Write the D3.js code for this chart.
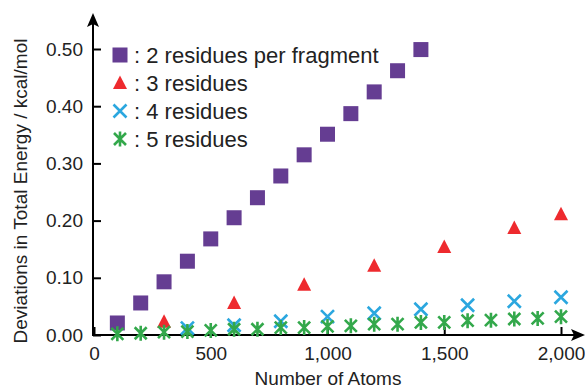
<!DOCTYPE html>
<html>
<head>
<meta charset="utf-8">
<script src="https://cdn.jsdelivr.net/npm/d3@7"></script>
<style>
  html, body { margin: 0; padding: 0; background: #fff; }
  svg { display: block; font-family: "Liberation Sans", Arial, sans-serif; }
</style>
</head>
<body>
<svg id="chart" width="585" height="388"></svg>
<script>
// Deviation in total energy vs. system size, per fragment size
const atoms2 = [100, 200, 300, 400, 500, 600, 700, 800, 900, 1000, 1100, 1200, 1300, 1400];
const dev2   = [0.021, 0.056, 0.093, 0.129, 0.168, 0.205, 0.240, 0.278, 0.315, 0.351, 0.387, 0.425, 0.462, 0.499];

const atoms3 = [300, 600, 900, 1200, 1500, 1800, 2000];
const dev3   = [0.023, 0.056, 0.088, 0.121, 0.154, 0.187, 0.211];

const atoms4 = [400, 600, 800, 1000, 1200, 1400, 1600, 1800, 2000];
const dev4   = [0.012, 0.017, 0.024, 0.032, 0.038, 0.045, 0.052, 0.059, 0.066];

const atoms5 = [100, 200, 300, 400, 500, 600, 700, 800, 900, 1000, 1100, 1200, 1300, 1400, 1500, 1600, 1700, 1800, 1900, 2000];
const dev5   = [0.002, 0.003, 0.005, 0.006, 0.008, 0.010, 0.010, 0.013, 0.013, 0.015, 0.016, 0.019, 0.019, 0.022, 0.022, 0.025, 0.026, 0.028, 0.029, 0.032];

const xTicks = [0, 500, 1000, 1500, 2000];
const yTicks = [0, 0.1, 0.2, 0.3, 0.4, 0.5];
const legendLabels = [": 2 residues per fragment", ": 3 residues", ": 4 residues", ": 5 residues"];

const colors = { sq: "#653d92", tri: "#ee2a2e", x: "#2ba7df", star: "#33a84b" };

const svg = d3.select("#chart");
const x = d3.scaleLinear().domain([0, 2000]).range([94, 561]);
const y = d3.scaleLinear().domain([0, 0.5]).range([335, 49]);

const fontSize = 19;

// Axes (inward ticks, custom arrowed axis lines)
const yAxis = d3.axisLeft(y).tickValues(yTicks).tickFormat(d3.format(".2f"))
  .tickSizeInner(-8).tickSizeOuter(0).tickPadding(10);
const gy = svg.append("g").attr("transform", `translate(${x(0) - 1},0)`).call(yAxis);
gy.select(".domain").remove();
gy.selectAll(".tick line").attr("stroke", "#000").attr("stroke-width", 2);
gy.selectAll(".tick text").attr("font-size", fontSize).attr("fill", "#222")
  .attr("font-family", "Liberation Sans, Arial, sans-serif");

const xAxis = d3.axisBottom(x).tickValues(xTicks).tickFormat(d3.format(","))
  .tickSizeInner(-8).tickSizeOuter(0).tickPadding(12);
const gx = svg.append("g").attr("transform", `translate(0,${y(0)})`).call(xAxis);
gx.select(".domain").remove();
gx.selectAll(".tick line").attr("stroke", "#000").attr("stroke-width", 2);
gx.selectAll(".tick text").attr("font-size", fontSize).attr("fill", "#222")
  .attr("font-family", "Liberation Sans, Arial, sans-serif");

// Axis lines with arrowheads
const x0 = x(0) - 1, y0 = y(0);
svg.append("line").attr("x1", x0).attr("y1", y0).attr("x2", x0).attr("y2", 24)
  .attr("stroke", "#000").attr("stroke-width", 2);
svg.append("path").attr("d", `M${x0},13 L${x0 - 6},27 L${x0},24 L${x0 + 6},27 Z`).attr("fill", "#000");
svg.append("line").attr("x1", x0 - 1).attr("y1", y0).attr("x2", 574).attr("y2", y0)
  .attr("stroke", "#000").attr("stroke-width", 2);
svg.append("path").attr("d", `M585,${y0} L571,${y0 - 6} L574,${y0} L571,${y0 + 6} Z`).attr("fill", "#000");

// Axis titles
svg.append("text").attr("x", 328).attr("y", 385).attr("text-anchor", "middle")
  .attr("font-size", fontSize).attr("fill", "#222").text("Number of Atoms");
svg.append("text").attr("transform", "translate(27,191) rotate(-90)").attr("text-anchor", "middle")
  .attr("font-size", fontSize).attr("fill", "#222").text("Deviations in Total Energy / kcal/mol");

// Marker shapes
const markers = {
  sq: (g) => g.append("rect").attr("x", -7.5).attr("y", -7.5).attr("width", 15).attr("height", 15)
    .attr("fill", colors.sq),
  tri: (g) => g.append("path").attr("d", "M0,-7.5 L7,6 L-7,6 Z").attr("fill", colors.tri),
  x: (g) => g.append("path").attr("d", "M-6.5,-6.5 L6.5,6.5 M-6.5,6.5 L6.5,-6.5")
    .attr("stroke", colors.x).attr("stroke-width", 2.6).attr("fill", "none"),
  star: (g) => g.append("path").attr("d", "M-6,-6 L6,6 M-6,6 L6,-6 M0,-7.5 L0,7.5")
    .attr("stroke", colors.star).attr("stroke-width", 2.6).attr("fill", "none")
};

function drawSeries(xs, ys, kind) {
  const pts = xs.map((v, i) => [v, ys[i]]);
  svg.append("g").selectAll("g").data(pts).join("g")
    .attr("transform", d => `translate(${x(d[0])},${y(d[1])})`)
    .each(function () { markers[kind](d3.select(this)); });
}

drawSeries(atoms2, dev2, "sq");
drawSeries(atoms3, dev3, "tri");
drawSeries(atoms4, dev4, "x");
drawSeries(atoms5, dev5, "star");

// Legend
const kinds = ["sq", "tri", "x", "star"];
const lg = svg.append("g");
kinds.forEach((k, i) => {
  const row = lg.append("g").attr("transform", `translate(0,${55 + i * 28})`);
  markers[k](row.append("g").attr("transform", "translate(120,0)"));
  row.append("text").attr("x", 134).attr("y", 8).attr("font-size", 22)
    .attr("fill", "#222").text(legendLabels[i]);
});
</script>
</body>
</html>
